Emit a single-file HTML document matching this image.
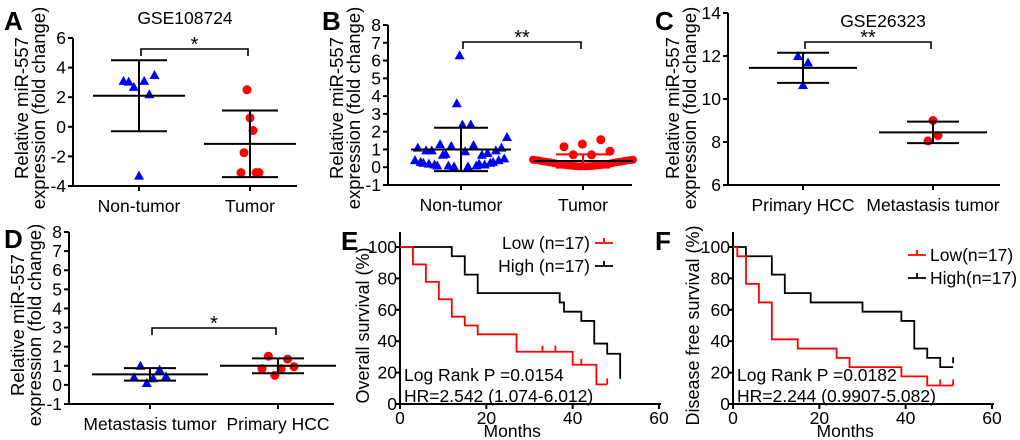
<!DOCTYPE html>
<html><head><meta charset="utf-8"><style>
html,body{margin:0;padding:0;background:#fff;}
svg{display:block;font-family:"Liberation Sans",Arial,sans-serif;}
</style></head><body>
<svg id="fig" width="1020" height="440" viewBox="0 0 1020 440"></svg>
<script>
// ---- Panel A data ----
const aCats=["Non-tumor","Tumor"];
const aTicks=[-4,-2,0,2,4,6];
const aNon=[3.1,3.05,2.7,-3.3,3.1,2.2,3.5];
const aTum=[-3.1,-1.75,2.5,0.6,-0.25,-3.1,-3.1];
const aMean=[2.1,-1.15];
const aSD=[2.4,2.25];
// ---- Panel B data ----
const bCats=["Non-tumor","Tumor"];
const bTicks=[-1,0,1,2,3,4,5,6,7,8];
const bNon=[0.4,1.1,0.3,0.25,0.95,0.2,0.95,0.15,0.1,1.3,0.7,0.75,0.1,1.2,0.05,3.6,6.3,2.4,0.9,0.05,2.4,1.25,0.1,0.2,0.7,0.15,0.8,0.25,0.3,0.95,0.4,1.1,0.5,1.7];
const bTum=[0.42,0.4,0.38,0.35,0.32,0.3,0.27,0.24,0.21,0.18,0.15,0.13,0.11,0.09,0.07,0.06,0.05,0.05,0.05,0.05,0.06,0.07,0.09,0.11,0.13,0.15,0.18,0.21,0.24,0.27,0.3,0.32,0.35,0.38,0.4,0.42];
const bTumHigh=[1.15,0.7,1.3,0.7,1.55,0.9];
const bMean=[1.0,0.35];
const bSD=[1.22,0.37];
// ---- Panel C data ----
const cCats=["Primary HCC","Metastasis tumor"];
const cTicks=[6,8,10,12,14];
const cPrim=[12.0,10.65,11.7];
const cMet=[8.05,9.0,8.3];
const cMean=[11.45,8.45];
const cSD=[0.7,0.5];
// ---- Panel D data ----
const dCats=["Metastasis tumor","Primary HCC"];
const dTicks=[-1,0,1,2,3,4,5,6,7,8];
const dMet=[0.4,1.0,0.1,0.35,0.8,0.45];
const dPrim=[0.85,1.5,0.5,0.85,1.35,0.95];
const dMean=[0.55,1.0];
const dSD=[0.33,0.39];
// ---- Panel E data (months, survival %) ----
const eLowT=[0,3,6,9,12,15,18,27,40,45.5,48];
const eLowS=[100,88.9,77.8,66.7,55.6,50,44.4,33.3,25,12.5,12.5];
const eLowCens=[[33,33.3],[36,33.3],[42,25],[48,12.5]];
const eHighT=[0,12,15,18,37,38,42,45,48,51,51];
const eHighS=[100,94.1,82.4,70.6,64.7,58.8,52.9,38.5,32,16,16];
// ---- Panel F data ----
const fLowT=[0,1,3,6,9,15,24,27,39,45,51];
const fLowS=[100,94.1,76.5,64.7,41.2,35.3,29.4,23.5,17.6,11.8,11.8];
const fLowCens=[[48,11.8],[51,11.8]];
const fHighT=[0,3,9,12,18,30,39,42,45,48,51];
const fHighS=[100,94.1,82.4,70.6,64.7,58.8,52.9,35.3,29.4,23.5,23.5];
const fHighCens=[[51,26]];
const kmTicksX=[0,20,40,60];
const kmTicksY=[0,20,40,60,80,100];

const NS="http://www.w3.org/2000/svg";
const svg=document.getElementById('fig');
function el(tag,attrs,parent){const e=document.createElementNS(NS,tag);for(const k in attrs)e.setAttribute(k,attrs[k]);(parent||svg).appendChild(e);return e;}
function txt(s,x,y,size,anchor,parent,extra){const t=el('text',Object.assign({x:x,y:y,'font-size':size,'text-anchor':anchor||'start',fill:'#000'},extra||{}),parent);t.textContent=s;return t;}
function line(x1,y1,x2,y2,col,w,parent){return el('line',{x1:x1,y1:y1,x2:x2,y2:y2,stroke:col||'#000','stroke-width':w||2},parent);}

function scatterPanel(o){
  const g=el('g',{});
  
  
  const y=v=>o.y0+(v-o.vmin)*(o.y1-o.y0)/(o.vmax-o.vmin);
  const ax=el('g',{},g);
  
  
  line(o.ax,y(o.vmax),o.ax,y(o.vmin),'#000',2,ax);
  line(o.ax,y(o.vmin),o.axEnd,y(o.vmin),'#000',2,ax);
  o.ticks.forEach(t=>{line(o.ax-5,y(t),o.ax,y(t),'#000',2,ax);
    const l=txt(String(t),o.ax-7,y(t)+6,17.5,'end',ax);
    
    });
  o.cats.forEach((c,i)=>{line(o.cx[i],y(o.vmin),o.cx[i],y(o.vmin)+5,'#000',2,ax);
    const l=txt(c,o.cx[i],y(o.vmin)+26,17.5,'middle',ax);
    
    });
  const yt=el('text',{transform:`translate(${o.ylx},${o.yly}) rotate(-90)`,'font-size':18.5,'text-anchor':'middle',fill:'#000'},g);
  
  
  const t1=el('tspan',{x:0,y:0},yt);t1.textContent='Relative miR-557';
  const t2=el('tspan',{x:0,y:17},yt);t2.textContent='expression (fold change)';
  const pl=txt(o.letter,o.lx,o.ly,26,'start',g,{'font-weight':'bold'});
  
  
  if(o.title){const tt=txt(o.title,o.tx,o.ty,17.5,'middle',g);
    
    }
  const br=el('path',{d:`M${o.cx[0]+2},${o.by+7}V${o.by}H${o.cx[1]-2}V${o.by+7}`,fill:'none',stroke:'#000','stroke-width':1.6},g);
  
  
  const st=txt(o.star,(o.cx[0]+o.cx[1])/2,o.by+2,20,'middle',g);
  
  
  o.groups.forEach(gr=>{
    const n=gr.vals.length;
    gr.vals.forEach((v,i)=>{
      const x=o.cx[gr.ci]+(n>1?(i/(n-1)-0.5)*gr.spread:0)+(gr.shift||0);
      const yy=y(v);let m;
      if(gr.shape==='tri'){m=el('path',{d:`M${x},${yy-5}L${x+5},${yy+4}L${x-5},${yy+4}Z`,fill:'#0000ff'},g);
        }
      else {m=el('circle',{cx:x,cy:yy,r:gr.r||4.5,fill:'#ff0000'},g);
        }
      
    });
  });
  o.means.forEach((mv,i)=>{
    const c=o.cx[i];const col=(o.sdCol&&o.sdCol[i])||'#000';
    const m=line(c-o.mw,y(mv),c+o.mw,y(mv),'#000',2,g);
    
    
    const s=el('g',{},g);
    
    
    line(c,y(mv+o.sds[i]),c,y(mv-o.sds[i]),col,2,s);
    line(c-o.ww,y(mv+o.sds[i]),c+o.ww,y(mv+o.sds[i]),col,2,s);
    line(c-o.ww,y(mv-o.sds[i]),c+o.ww,y(mv-o.sds[i]),col,2,s);
  });
}

scatterPanel({name:'panel-a',letter:'A',lx:4,ly:30,title:'GSE108724',tx:185,ty:24,ax:73,axEnd:297,vmin:-4,vmax:6,y0:186,y1:38,ticks:aTicks,cats:aCats,cx:[139,250],ylx:28,yly:108,by:49,star:'*',
 groups:[{ci:0,vals:aNon,shape:'tri',spread:31},{ci:1,vals:aTum,shape:'circ',spread:18}],means:aMean,sds:aSD,mw:46,ww:28});
scatterPanel({name:'panel-b',letter:'B',lx:322,ly:30,ax:388,axEnd:632,vmin:-1,vmax:8,y0:185,y1:25,ticks:bTicks,cats:bCats,cx:[461,583],ylx:343,yly:108,by:42,star:'**',
 groups:[{ci:0,vals:bNon,shape:'tri',spread:92},{ci:1,vals:bTum,shape:'circ',spread:100,r:4},{ci:1,vals:bTumHigh,shape:'circ',spread:46,shift:4}],means:bMean,sds:bSD,sdCol:['#000','#ff0000'],mw:50,ww:27});
scatterPanel({name:'panel-c',letter:'C',lx:655,ly:30,title:'GSE26323',tx:883,ty:27,ax:728,axEnd:1000,vmin:6,vmax:14,y0:185,y1:13,ticks:cTicks,cats:cCats,cx:[803,933],ylx:679,yly:108,by:42,star:'**',
 groups:[{ci:0,vals:cPrim,shape:'tri',spread:10},{ci:1,vals:cMet,shape:'circ',spread:10}],means:cMean,sds:cSD,mw:54,ww:26});
scatterPanel({name:'panel-d',letter:'D',lx:4,ly:248,ax:69,axEnd:334,vmin:-1,vmax:8,y0:404,y1:232,ticks:dTicks,cats:dCats,cx:[150,278],ylx:24,yly:325,by:328,star:'*',
 groups:[{ci:0,vals:dMet,shape:'tri',spread:32},{ci:1,vals:dPrim,shape:'circ',spread:32}],means:dMean,sds:dSD,mw:58,ww:26});

function kmPanel(o){
  const g=el('g',{});
  
  
  const X=t=>o.ax+t*(o.x60-o.ax)/60, Y=s=>o.y0-s*(o.y0-o.y100)/100;
  const ax=el('g',{},g);
  
  
  line(o.ax,o.y0,o.ax,o.y100-15,'#000',2,ax);
  line(o.ax,o.y0,X(60)+2,o.y0,'#000',2,ax);
  kmTicksY.forEach(t=>{line(o.ax-5,Y(t),o.ax,Y(t),'#000',2,ax);
    const l=txt(String(t),o.ax-3,Y(t)+6,17.5,'end',ax);
    
    });
  kmTicksX.forEach(t=>{line(X(t),o.y0,X(t),o.y0+5,'#000',2,ax);
    const l=txt(String(t),X(t),o.y0+20,17.5,'middle',ax);
    
    });
  const xl=txt('Months',X(26),o.y0+33,17.5,'middle',g);
  
  
  const yt=el('text',{transform:`translate(${o.ylx},${Y(50)}) rotate(-90)`,'font-size':18,'text-anchor':'middle',fill:'#000'},g);
  yt.textContent=o.ytitle;
  
  
  const pl=txt(o.letter,o.lx,o.ly,26,'start',g,{'font-weight':'bold'});
  
  
  function curve(T,S,col,nm,cens){
    let d=`M${X(T[0])},${Y(S[0])}`;
    for(let i=1;i<T.length;i++){d+=`H${X(T[i])}V${Y(S[i])}`;}
    const p=el('path',{d:d,fill:'none',stroke:col,'stroke-width':1.8},g);
    
    
    (cens||[]).forEach(c=>{const m=line(X(c[0]),Y(c[1]),X(c[0]),Y(c[1])-6,col,1.8,g);
      
      });
  }
  curve(o.hT,o.hS,'#000','high-curve',o.hC);
  curve(o.lT,o.lS,'#ff0000','low-curve',o.lC);
  const s1=txt(o.p,o.ax+4,o.y0-23,17.5,'start',g);
  
  
  const s2=txt(o.hr,o.ax+4,o.y0-2,17.5,'start',g);
  
  
  o.legend.forEach((L,i)=>{
    const lg=el('g',{},g);
    
    
    const yy=o.legY+i*23;
    line(L.lx1,yy,L.lx1+18,yy,L.col,1.8,lg);
    line(L.lx1+9,yy,L.lx1+9,yy-5,L.col,1.8,lg);
    txt(L.t,L.tx,yy+6,17.5,L.anchor,lg);
  });
}
kmPanel({name:'panel-e',letter:'E',lx:341,ly:250,ax:400,x60:659,y0:404,y100:247,ylx:369,ytitle:'Overall survival (%)',
 lT:eLowT,lS:eLowS,lC:eLowCens,hT:eHighT,hS:eHighS,hC:[],p:'Log Rank P =0.0154',hr:'HR=2.542 (1.074-6.012)',legY:243,
 legend:[{t:'Low (n=17)',tx:590,anchor:'end',lx1:595,col:'#ff0000'},{t:'High (n=17)',tx:590,anchor:'end',lx1:595,col:'#000'}]});
kmPanel({name:'panel-f',letter:'F',lx:655,ly:250,ax:733,x60:992,y0:404,y100:247,ylx:699,ytitle:'Disease free survival (%)',
 lT:fLowT,lS:fLowS,lC:fLowCens,hT:fHighT,hS:fHighS,hC:fHighCens,p:'Log Rank P =0.0182',hr:'HR=2.244 (0.9907-5.082)',legY:255,
 legend:[{t:'Low(n=17)',tx:930,anchor:'start',lx1:908,col:'#ff0000'},{t:'High(n=17)',tx:930,anchor:'start',lx1:908,col:'#000'}]});
</script>
</body></html>
